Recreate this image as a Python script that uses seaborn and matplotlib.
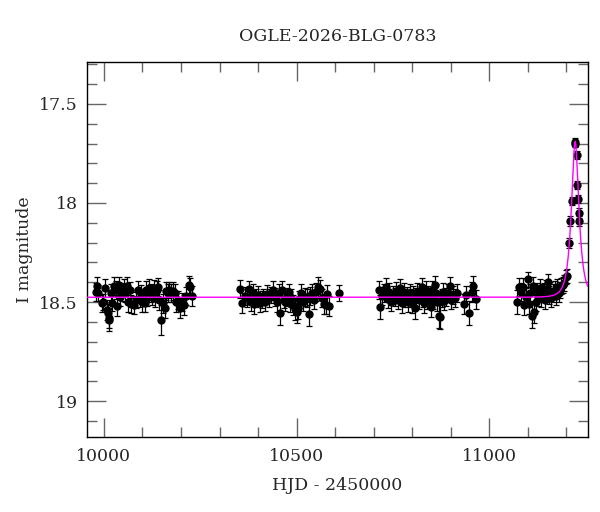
import numpy as np
import pandas as pd
import matplotlib
matplotlib.use("Agg")
import matplotlib.pyplot as plt
import seaborn as sns
from matplotlib.ticker import MultipleLocator, FuncFormatter

# photometry, HJD - 2450000 / I mag / error, one list per season
s1_hjd = [9979, 9981, 9986, 9994, 9999, 10004, 10007, 10010, 10012, 10014,
          10019, 10022, 10027, 10032, 10035, 10039, 10042, 10047, 10051, 10055,
          10059, 10063, 10067, 10071, 10077, 10083, 10088, 10093, 10096, 10100,
          10106, 10110, 10113, 10118, 10121, 10126, 10130, 10133, 10138, 10141,
          10144, 10148, 10153, 10158, 10161, 10166, 10170, 10175, 10180, 10184,
          10188, 10193, 10198, 10203, 10208, 10214, 10220, 10224, 10229]
s1_mag = [18.448, 18.419, 18.453, 18.503, 18.498, 18.431, 18.540, 18.557, 18.579, 18.591,
          18.456, 18.503, 18.419, 18.439, 18.520, 18.414, 18.473, 18.448, 18.426, 18.456,
          18.419, 18.498, 18.439, 18.510, 18.513, 18.490, 18.439, 18.481, 18.456, 18.498,
          18.503, 18.439, 18.481, 18.431, 18.456, 18.465, 18.431, 18.481, 18.439, 18.423,
          18.490, 18.591, 18.507, 18.532, 18.443, 18.456, 18.439, 18.453, 18.443, 18.456,
          18.498, 18.490, 18.532, 18.498, 18.515, 18.470, 18.414, 18.426, 18.470]
s1_err = [0.045, 0.045, 0.040, 0.045, 0.040, 0.045, 0.050, 0.045, 0.050, 0.055,
          0.045, 0.040, 0.045, 0.045, 0.050, 0.040, 0.045, 0.045, 0.040, 0.045,
          0.045, 0.050, 0.040, 0.045, 0.045, 0.040, 0.045, 0.045, 0.040, 0.050,
          0.045, 0.045, 0.040, 0.045, 0.045, 0.050, 0.040, 0.045, 0.045, 0.045,
          0.050, 0.075, 0.050, 0.050, 0.045, 0.045, 0.040, 0.045, 0.045, 0.045,
          0.050, 0.045, 0.050, 0.045, 0.050, 0.045, 0.045, 0.045, 0.050]

s2_hjd = [10354, 10359, 10366, 10371, 10376, 10381, 10386, 10389, 10394, 10399,
          10404, 10409, 10414, 10419, 10423, 10429, 10434, 10439, 10444, 10448,
          10453, 10458, 10461, 10466, 10471, 10476, 10479, 10483, 10486, 10491,
          10496, 10501, 10504, 10507, 10512, 10517, 10522, 10527, 10531, 10535,
          10540, 10545, 10550, 10555, 10560, 10565, 10570, 10575, 10580, 10585,
          10609]
s2_mag = [18.436, 18.503, 18.470, 18.478, 18.436, 18.498, 18.456, 18.510, 18.478, 18.465,
          18.503, 18.487, 18.473, 18.498, 18.460, 18.481, 18.465, 18.439, 18.476, 18.498,
          18.456, 18.554, 18.439, 18.487, 18.498, 18.473, 18.448, 18.503, 18.481, 18.515,
          18.537, 18.549, 18.532, 18.487, 18.456, 18.498, 18.476, 18.481, 18.561, 18.470,
          18.456, 18.490, 18.448, 18.426, 18.436, 18.481, 18.510, 18.515, 18.460, 18.520,
          18.453]
s2_err = [0.045, 0.050, 0.045, 0.045, 0.040, 0.045, 0.045, 0.050, 0.045, 0.045,
          0.045, 0.045, 0.040, 0.045, 0.045, 0.045, 0.040, 0.045, 0.045, 0.050,
          0.045, 0.060, 0.045, 0.045, 0.045, 0.045, 0.040, 0.045, 0.045, 0.050,
          0.055, 0.055, 0.055, 0.045, 0.045, 0.045, 0.045, 0.045, 0.060, 0.045,
          0.045, 0.045, 0.045, 0.050, 0.045, 0.045, 0.050, 0.045, 0.045, 0.050,
          0.040]

s3_hjd = [10714, 10717, 10722, 10727, 10732, 10736, 10740, 10744, 10749, 10754,
          10759, 10764, 10767, 10771, 10774, 10779, 10782, 10786, 10790, 10793,
          10796, 10800, 10803, 10806, 10810, 10813, 10817, 10821, 10825, 10828,
          10831, 10835, 10838, 10841, 10845, 10848, 10851, 10854, 10858, 10861,
          10865, 10868, 10873, 10876, 10880, 10883, 10888, 10893, 10898, 10901,
          10906, 10911, 10915, 10933, 10940, 10947, 10954, 10957, 10964]
s3_mag = [18.439, 18.524, 18.470, 18.456, 18.426, 18.487, 18.448, 18.498, 18.465, 18.476,
          18.443, 18.490, 18.431, 18.465, 18.507, 18.448, 18.481, 18.470, 18.498, 18.456,
          18.481, 18.507, 18.465, 18.532, 18.473, 18.448, 18.490, 18.456, 18.426, 18.481,
          18.507, 18.439, 18.490, 18.465, 18.481, 18.524, 18.439, 18.490, 18.414, 18.456,
          18.498, 18.571, 18.577, 18.481, 18.448, 18.493, 18.473, 18.453, 18.419, 18.490,
          18.465, 18.481, 18.453, 18.510, 18.465, 18.554, 18.448, 18.419, 18.487]
s3_err = [0.045, 0.060, 0.045, 0.045, 0.045, 0.045, 0.045, 0.045, 0.045, 0.045,
          0.045, 0.045, 0.045, 0.045, 0.050, 0.045, 0.045, 0.045, 0.050, 0.045,
          0.045, 0.050, 0.045, 0.055, 0.045, 0.045, 0.045, 0.045, 0.045, 0.045,
          0.050, 0.045, 0.045, 0.045, 0.045, 0.050, 0.045, 0.045, 0.045, 0.045,
          0.045, 0.060, 0.060, 0.045, 0.045, 0.045, 0.045, 0.045, 0.045, 0.045,
          0.045, 0.045, 0.045, 0.050, 0.045, 0.060, 0.050, 0.050, 0.050]

s4_hjd = [11072, 11077, 11081, 11086, 11091, 11094, 11099, 11103, 11106, 11111,
          11114, 11117, 11121, 11124, 11127, 11131, 11134, 11138, 11141, 11144,
          11147, 11151, 11154, 11158, 11161, 11165, 11169, 11173, 11176, 11180,
          11183, 11187, 11191, 11194, 11198, 11201,
          11206.5, 11210, 11214, 11222, 11223, 11226.5, 11228, 11230.5, 11231.5, 11232.5]
s4_mag = [18.498, 18.423, 18.448, 18.426, 18.515, 18.473, 18.386, 18.510, 18.456, 18.571,
          18.419, 18.549, 18.498, 18.448, 18.473, 18.431, 18.481, 18.456, 18.448, 18.490,
          18.436, 18.397, 18.465, 18.443, 18.481, 18.453, 18.439, 18.470, 18.426, 18.456,
          18.439, 18.419, 18.414, 18.402, 18.372, 18.369,
          18.20, 18.09, 17.99, 17.70, 17.69, 17.76, 17.91, 17.98, 18.05, 18.09]
s4_err = [0.060, 0.045, 0.045, 0.045, 0.050, 0.045, 0.040, 0.050, 0.045, 0.060,
          0.045, 0.055, 0.045, 0.045, 0.045, 0.045, 0.045, 0.045, 0.045, 0.045,
          0.045, 0.040, 0.045, 0.045, 0.045, 0.045, 0.045, 0.045, 0.040, 0.045,
          0.040, 0.040, 0.040, 0.040, 0.035, 0.035,
          0.025, 0.025, 0.020, 0.020, 0.020, 0.020, 0.020, 0.020, 0.025, 0.025]

# point-lens (Paczynski) model parameters
t0 = 11222.5
tE = 16.0
u0 = 0.535
I0 = 18.476
fs = 1.0

df = pd.DataFrame({
    'hjd': s1_hjd + s2_hjd + s3_hjd + s4_hjd,
    'mag': s1_mag + s2_mag + s3_mag + s4_mag,
    'err': s1_err + s2_err + s3_err + s4_err,
})

t_model = np.linspace(9950, 11260, 4000)
u = np.sqrt(u0**2 + ((t_model - t0) / tE)**2)
amp = (u**2 + 2) / (u * np.sqrt(u**2 + 4))
m_model = I0 - 2.5 * np.log10(fs * (amp - 1) + 1)

sns.set_style("ticks")
plt.rcParams['font.family'] = ['DejaVu Serif']

fig = plt.figure(figsize=(6, 5.12), dpi=100)
ax = fig.add_axes([0.1455, 0.147, 0.834, 0.7313])

ax.errorbar(df['hjd'], df['mag'], yerr=df['err'], fmt='o', ms=5,
            color='black', ecolor='black', elinewidth=0.9,
            capsize=2.5, capthick=0.9, zorder=3)
sns.lineplot(x=t_model, y=m_model, color='#ff00ff', lw=1, ax=ax, zorder=4)

ax.set_xlim(9957, 11255)
ax.set_ylim(19.18, 17.29)

ax.xaxis.set_major_locator(MultipleLocator(500))
ax.xaxis.set_minor_locator(MultipleLocator(100))
ax.yaxis.set_major_locator(MultipleLocator(0.5))
ax.yaxis.set_minor_locator(MultipleLocator(0.1))
ax.yaxis.set_major_formatter(FuncFormatter(lambda v, p: '%g' % v))

ax.tick_params(which='both', direction='in', top=True, right=True,
               color='#666666', width=1, labelsize=12.5)
ax.tick_params(which='major', length=13.5)
ax.tick_params(which='minor', length=7)
ax.tick_params(axis='x', pad=8)
ax.tick_params(axis='y', pad=7)
for sp in ax.spines.values():
    sp.set_color('black')
    sp.set_linewidth(1)

ax.set_title('OGLE-2026-BLG-0783', fontsize=12.5, pad=15)
ax.set_xlabel('HJD - 2450000', fontsize=12.5, labelpad=9)
ax.set_ylabel('I magnitude', fontsize=12.5, labelpad=4)

fig.savefig('out.png', dpi=100)
